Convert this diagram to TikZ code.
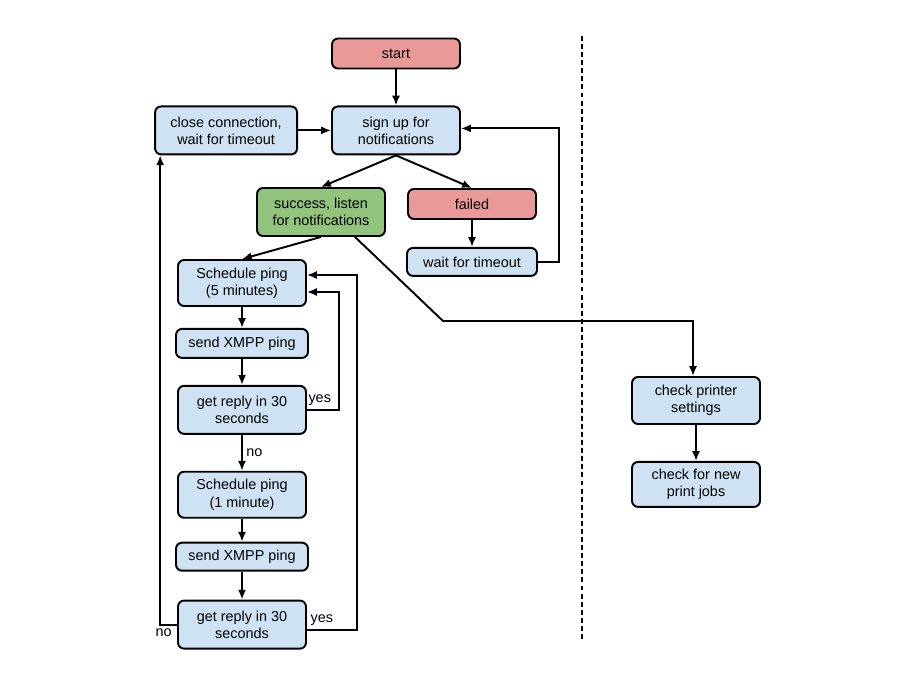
\documentclass[tikz,border=0pt]{standalone}
\usepackage{fontspec}
\setmainfont{Liberation Sans}
\usetikzlibrary{positioning,arrows.meta}
\definecolor{myblue}{RGB}{207,226,243}
\definecolor{mygreen}{RGB}{147,196,125}
\definecolor{myred}{RGB}{234,153,153}

\begin{document}
\begin{tikzpicture}[x=0.02cm,y=-0.02cm,
  box/.style={draw,line width=1.1pt,rounded corners=0.12cm,align=center,
    font=\fontsize{8.2}{9.7}\selectfont,inner sep=1pt,
    minimum width=2.56cm,minimum height=0.96cm},
  low/.style={minimum height=0.6cm},
  bbox/.style={box,fill=myblue},
  gbox/.style={box,fill=mygreen},
  rbox/.style={box,fill=myred},
  arr/.style={line width=1.1pt,-{Latex[length=5.6pt,width=4.6pt]}},
  lbl/.style={font=\fontsize{8.2}{9.7}\selectfont,inner sep=2pt}]

  \useasboundingbox (0,0) rectangle (920,678);

  \node[rbox,low] (start) at (396,53.5) {start};
  \node[bbox,below=0.72cm of start] (signup) {sign up for\\notifications};
  \node[bbox,left=0.66cm of signup,minimum width=2.84cm] (close) {close connection,\\wait for timeout};

  \node[gbox] (success) at (321,212) {success, listen\\for notifications};
  \node[rbox,low] (failed) at (472,204) {failed};
  \node[bbox,low,below=0.54cm of failed,minimum width=2.6cm,minimum height=0.56cm] (wait) {wait for timeout};

  % left column: ping loop
  \node[bbox,minimum height=0.92cm] (sched5) at (242,283) {Schedule ping\\(5 minutes)};
  \node[bbox,low,below=0.42cm of sched5,minimum width=2.64cm,minimum height=0.58cm] (send1) {send XMPP ping};
  \node[bbox,below=0.52cm of send1] (reply1) {get reply in 30\\seconds};
  \node[bbox,below=0.72cm of reply1,minimum height=0.92cm] (sched1) {Schedule ping\\(1 minute)};
  \node[bbox,low,below=0.46cm of sched1,minimum width=2.64cm,minimum height=0.56cm] (send2) {send XMPP ping};
  \node[bbox,below=0.56cm of send2] (reply2) {get reply in 30\\seconds};

  % right column: printer
  \node[bbox,minimum height=0.94cm] (checkp) at (696,400.5) {check printer\\settings};
  \node[bbox,below=0.72cm of checkp,minimum height=0.9cm] (checknew) {check for new\\print jobs};

  \coordinate (bend) at (443,321);

  \draw[line width=0.7pt,dash pattern=on 2.8pt off 1.8pt] (582,36) -- (582,642);

  \draw[arr] (start) -- (signup);
  \draw[arr] (close) -- (signup);
  \draw[arr] (signup.south) -- (success.north);
  \draw[arr] (signup.south) -- (failed.north);
  \draw[arr] (failed) -- (wait);
  \draw[arr] (wait.east) -- ++(21,0) |- ([yshift=0.04cm]signup.east);

  \draw[arr] (success.south) -- (sched5.north);
  \draw[arr] ([xshift=0.68cm]success.south) -- (bend) -| ([xshift=-0.06cm]checkp.north);
  \draw[arr] (checkp) -- (checknew);

  % draw the ping loop
  \draw[arr] (sched5) -- (send1);
  \draw[arr] (send1) -- (reply1);
  \draw[arr] (reply1) -- node[lbl,right] {no} (sched1);
  \draw[arr] (sched1) -- (send2);
  \draw[arr] (send2) -- (reply2);

  \draw[arr] (reply1.east) -- node[lbl,above,pos=0.4] {yes} ++(32,0) |- ([yshift=-0.18cm]sched5.east);
  \draw[arr] ([yshift=-0.1cm]reply2.east) -- node[lbl,above,pos=0.3] {yes} ++(50,0) |- ([yshift=0.16cm]sched5.east);
  \draw[arr] (reply2.west) -| node[lbl,below,pos=0.4] {no} ([xshift=0.12cm]close.south west);

\end{tikzpicture}
\end{document}
